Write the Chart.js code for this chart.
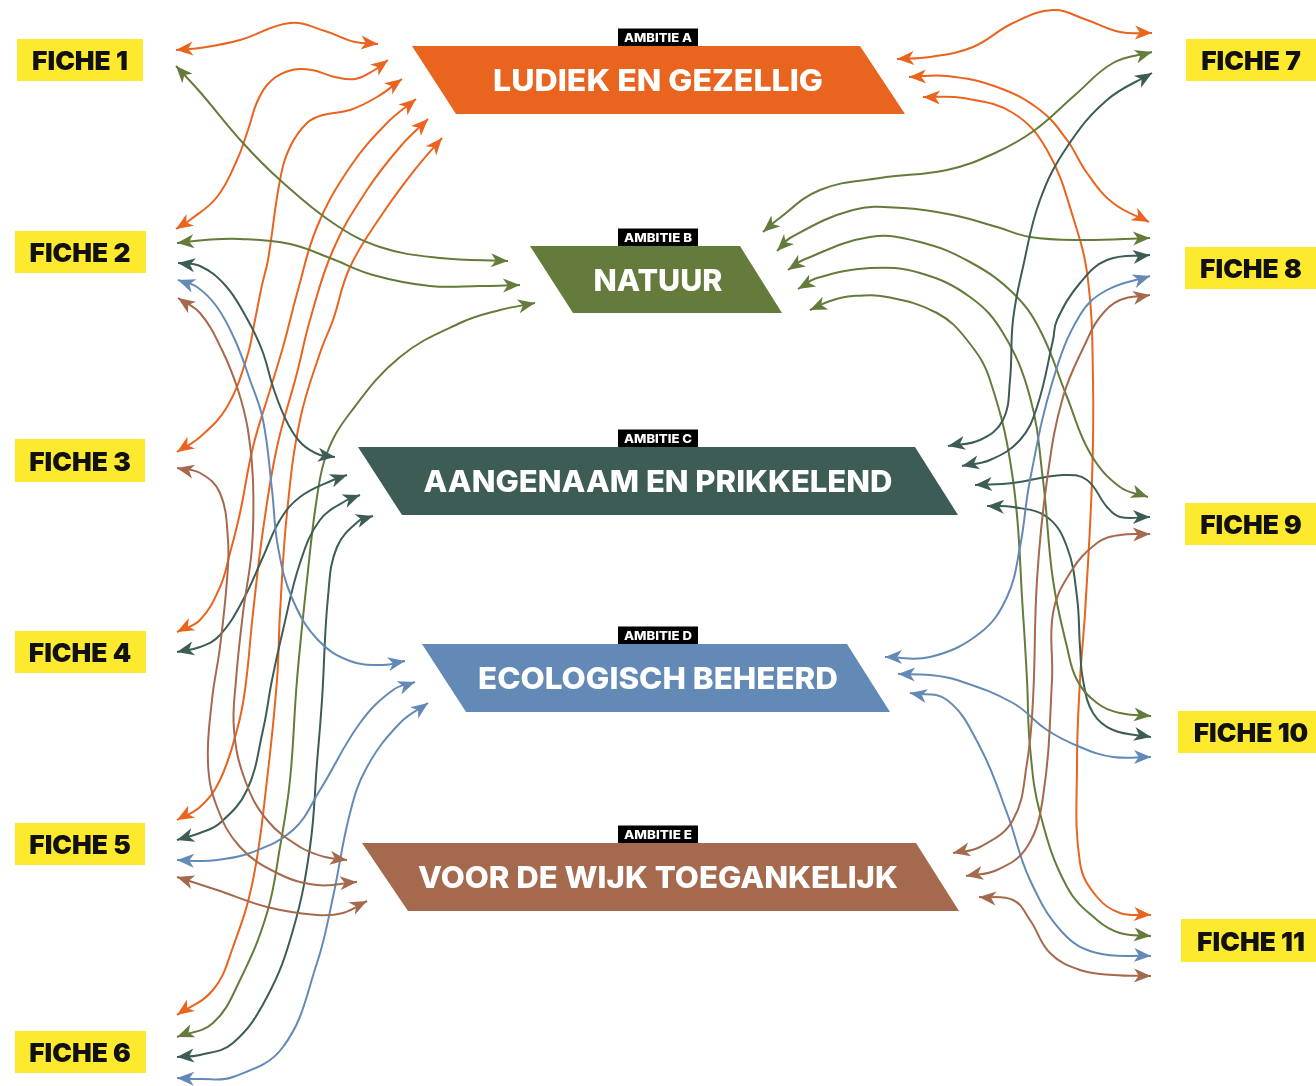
<!DOCTYPE html>
<html><head><meta charset="utf-8">
<script src="https://cdn.jsdelivr.net/npm/chart.js@4.4.1/dist/chart.umd.min.js"></script>
<style>html,body{margin:0;padding:0;background:#fff;}canvas{display:block;}</style>
</head><body>
<canvas id="c" width="1316" height="1086"></canvas>
<script>
// ---------- DATA ----------
const ficheLabels = ['FICHE 1','FICHE 2','FICHE 3','FICHE 4','FICHE 5','FICHE 6','FICHE 7','FICHE 8','FICHE 9','FICHE 10','FICHE 11'];
const ambitieKeys = ['A','B','C','D','E'];
const ambitieTags = ['AMBITIE A','AMBITIE B','AMBITIE C','AMBITIE D','AMBITIE E'];
const ambitieTitles = ['LUDIEK EN GEZELLIG','NATUUR','AANGENAAM EN PRIKKELEND','ECOLOGISCH BEHEERD','VOOR DE WIJK TOEGANKELIJK'];
// which fiche is linked to which ambitie
const linkFiche   = [1,1, 2,2,2,2,2, 3,3, 4,4, 5,5,5,5, 6,6,6,6, 7,7,7, 8,8,8,8,8, 9,9,9, 10,10,10, 11,11,11,11];
const linkAmbitie = ['A','B', 'A','B','C','D','E', 'A','E', 'A','C', 'A','C','D','E', 'A','B','C','D', 'A','B','C', 'A','B','C','D','E', 'B','C','E', 'B','C','D', 'A','B','D','E'];

// ---------- LAYOUT (diagram geometry, in axis units) ----------
const ambitieColors = {A:'#E9641F', B:'#647B3B', C:'#3D5C55', D:'#638AB6', E:'#A5694E'};
const ficheColor = '#FDEA2E';
const ficheBoxes = [
  [17,39,126,42],[15,231,131,42],[15,439,130,43],[15,631,131,42],[15,823,130,42],[15,1031,131,42],
  [1186,39,130,42],[1185,247,131,42],[1185,503,131,42],[1178,711,138,42],[1181,919,135,43]
];
// parallelogram banners: top y, bottom y, top-left x, top-right x, bottom-right x, bottom-left x
const ambitieShapes = [
  [46,114,412,860,905,456],
  [246,313,530,740,782,573],
  [447,515,358,915,958,402],
  [644,712,422,847,890,466],
  [843,911,362,916,959,408]
];
// routes of the connecting arrows (fiche end -> ambitie end)
const linkRoutes = [
  [[176,50],[200,48],[240,40],[290,23],[325,31],[355,42],[378,44]],
  [[176,66],[200,92],[243,143],[280,180],[333,223],[380,247],[440,258],[508,261]],
  [[176,229],[190,220],[217,197],[237,160],[248,130],[258,100],[272,80],[292,70],[312,70],[335,77],[355,79],[373,71],[388,60]],
  [[177,243],[205,240],[240,239],[290,244],[330,258],[373,275],[430,286],[480,286],[520,285]],
  [[178,263],[200,266],[225,285],[245,315],[262,350],[274,390],[288,424],[302,444],[320,455],[335,457]],
  [[178,280],[197,287],[217,307],[235,340],[250,380],[263,420],[272,490],[278,547],[292,598],[318,640],[350,661],[383,665],[405,661]],
  [[178,298],[200,313],[222,350],[238,390],[248,430],[253,480],[252,547],[243,613],[236,680],[234,730],[245,780],[267,820],[300,847],[325,857],[347,860]],
  [[177,452],[200,437],[227,407],[247,357],[255,320],[262,285],[268,260],[280,180],[290,147],[307,123],[323,115],[350,110],[377,97],[402,79]],
  [[177,468],[200,473],[220,493],[228,540],[227,580],[220,647],[212,700],[208,763],[217,807],[240,847],[277,873],[317,885],[357,882]],
  [[177,632],[200,620],[220,587],[230,553],[240,513],[253,447],[270,390],[283,347],[298,290],[317,227],[350,167],[387,123],[416,99]],
  [[177,652],[200,647],[220,635],[243,600],[263,557],[280,520],[300,497],[333,480],[347,475]],
  [[177,820],[200,807],[220,780],[237,730],[245,690],[253,613],[263,530],[277,447],[297,373],[310,320],[333,250],[367,190],[400,147],[428,119]],
  [[177,840],[200,833],[220,823],[247,790],[263,730],[272,680],[283,630],[300,563],[320,520],[347,500],[360,495]],
  [[177,860],[200,861],[217,860],[250,853],[293,830],[320,790],[360,723],[393,690],[415,682]],
  [[177,877],[217,890],[267,907],[317,915],[343,913],[367,901]],
  [[177,1015],[213,990],[233,947],[253,880],[267,780],[277,680],[280,613],[287,513],[300,420],[320,353],[333,320],[350,267],[383,213],[417,167],[442,138]],
  [[177,1037],[213,1023],[240,980],[267,913],[280,847],[290,780],[297,680],[307,580],[317,497],[327,453],[350,413],[400,357],[460,323],[500,310],[535,303]],
  [[177,1057],[200,1055],[233,1043],[267,997],[293,930],[310,847],[317,763],[322,700],[328,597],[337,547],[360,520],[373,516]],
  [[177,1078],[200,1079],[233,1077],[283,1047],[317,963],[333,897],[350,813],[367,767],[400,723],[428,703]],
  [[1152,33],[1120,32],[1087,20],[1053,10],[1013,23],[973,47],[930,57],[897,59]],
  [[1152,52],[1113,63],[1075,95],[1035,130],[995,153],[947,170],[880,178],[820,190],[777,220],[763,232]],
  [[1152,73],[1107,100],[1067,147],[1040,200],[1023,267],[1013,320],[1010,380],[1003,420],[980,440],[948,446]],
  [[1149,222],[1113,203],[1087,173],[1067,140],[1040,110],[997,87],[947,76],[909,77]],
  [[1150,238],[1080,240],[1030,237],[997,227],[953,215],[903,208],[853,210],[790,238],[777,251]],
  [[1150,255],[1107,260],[1080,283],[1057,320],[1053,340],[1037,407],[1020,440],[990,460],[962,466]],
  [[1150,276],[1107,290],[1080,315],[1053,380],[1030,480],[1020,547],[1007,597],[980,633],[930,657],[885,657]],
  [[1150,295],[1120,300],[1100,317],[1087,340],[1063,397],[1047,480],[1037,580],[1033,700],[1027,763],[1013,820],[980,847],[953,853]],
  [[1148,497],[1120,487],[1090,453],[1067,397],[1040,330],[1013,293],[970,262],[920,242],[870,237],[803,260],[788,270]],
  [[1150,517],[1120,517],[1107,507],[1087,480],[1063,475],[1013,483],[975,485]],
  [[1150,534],[1120,535],[1097,543],[1070,573],[1053,613],[1052,680],[1043,797],[1027,847],[997,870],[966,876]],
  [[1151,716],[1120,713],[1097,703],[1077,680],[1067,647],[1053,580],[1043,480],[1030,397],[1003,333],[970,297],[920,273],[870,268],[817,278],[798,289]],
  [[1151,737],[1113,730],[1093,713],[1083,680],[1080,647],[1077,597],[1067,547],[1047,517],[1013,507],[987,506]],
  [[1151,757],[1113,757],[1080,747],[1047,730],[1013,703],[957,680],[930,675],[898,674]],
  [[1151,915],[1120,913],[1097,897],[1080,863],[1077,763],[1080,680],[1085,613],[1092,480],[1093,380],[1088,280],[1073,217],[1047,150],[1013,113],[963,98],[923,97]],
  [[1151,936],[1120,933],[1097,920],[1067,887],[1040,813],[1030,747],[1027,680],[1023,613],[1013,480],[990,380],[967,340],[937,313],[887,297],[853,296],[830,301],[810,310]],
  [[1151,956],[1097,953],[1063,933],[1030,880],[1007,813],[980,747],[947,700],[910,693]],
  [[1151,976],[1113,975],[1080,970],[1050,953],[1030,920],[1013,900],[979,897]]
];

const FONT = 'Inter, Lato, "Open Sans", sans-serif';
const CAP = 0.727;

function fitText(ctx, text, cx, cy, capH, targetW, weight, color) {
  const size = capH / CAP;
  ctx.font = weight + ' ' + size + 'px ' + FONT;
  const w = ctx.measureText(text).width;
  ctx.save();
  ctx.fillStyle = color;
  ctx.textAlign = 'center';
  ctx.textBaseline = 'alphabetic';
  ctx.translate(cx, cy + capH / 2);
  if (targetW) ctx.scale(targetW / w, 1);
  ctx.fillText(text, 0, 0);
  ctx.restore();
}

const diagramPlugin = {
  id: 'diagram',
  beforeDatasetsDraw(chart) {
    const ctx = chart.ctx, X = v => chart.scales.x.getPixelForValue(v), Y = v => chart.scales.y.getPixelForValue(v);
    ctx.fillStyle = ficheColor;
    ficheBoxes.forEach(b => {
      ctx.fillRect(X(b[0]), Y(b[1]), X(b[0] + b[2]) - X(b[0]), Y(b[1] + b[3]) - Y(b[1]));
    });
    ambitieShapes.forEach((s, i) => {
      ctx.fillStyle = ambitieColors[ambitieKeys[i]];
      ctx.beginPath();
      ctx.moveTo(X(s[2]), Y(s[0]));
      ctx.lineTo(X(s[3]), Y(s[0]));
      ctx.lineTo(X(s[4]), Y(s[1]));
      ctx.lineTo(X(s[5]), Y(s[1]));
      ctx.closePath();
      ctx.fill();
      ctx.fillStyle = '#000';
      ctx.fillRect(X(618), Y(s[0] - 17.5), X(698) - X(618), Y(s[0]) - Y(s[0] - 17.5));
    });
  },
  afterDatasetsDraw(chart) {
    const ctx = chart.ctx;
    chart.data.datasets.forEach((ds, i) => {
      const pts = chart.getDatasetMeta(i).data;
      const n = pts.length;
      const heads = [[pts[0], pts[1]], [pts[n - 1], pts[n - 2]]];
      ctx.fillStyle = ds.borderColor;
      heads.forEach(([tip, prev]) => {
        const dx = tip.x - prev.x, dy = tip.y - prev.y;
        const L = Math.hypot(dx, dy) || 1;
        const ux = dx / L, uy = dy / L;
        const len = 17, hw = 7;
        const bx = tip.x - ux * len, by = tip.y - uy * len;
        ctx.beginPath();
        ctx.moveTo(tip.x, tip.y);
        ctx.lineTo(bx - uy * hw, by + ux * hw);
        ctx.lineTo(tip.x - ux * len * 0.72, tip.y - uy * len * 0.72);
        ctx.lineTo(bx + uy * hw, by - ux * hw);
        ctx.closePath();
        ctx.fill();
      });
    });
  },
  afterDraw(chart) {
    const ctx = chart.ctx, X = v => chart.scales.x.getPixelForValue(v), Y = v => chart.scales.y.getPixelForValue(v);
    const capF = 18.5;
    const fs = capF / CAP;
    ctx.font = '900 ' + fs + 'px ' + FONT;
    const sx = 101 / ctx.measureText('FICHE 2').width;
    ficheBoxes.forEach((b, i) => {
      ctx.font = '900 ' + fs + 'px ' + FONT;
      const w = ctx.measureText(ficheLabels[i]).width;
      const cx = i < 6 ? 80 : 1251;
      fitText(ctx, ficheLabels[i], X(cx), Y(b[1] + b[3] / 2 + 1), capF, w * sx, '900', '#111');
    });
    const titleW = [330, 129, 469, 360, 480];
    ambitieShapes.forEach((s, i) => {
      fitText(ctx, ambitieTitles[i], X(658), Y((s[0] + s[1]) / 2), 22, titleW[i], '800', '#fff');
      fitText(ctx, ambitieTags[i], X(658), Y(s[0] - 8.5), 9, 68, '800', '#fff');
    });
  }
};

const datasets = linkRoutes.map((r, i) => ({
  label: ficheLabels[linkFiche[i] - 1] + ' - ' + linkAmbitie[i],
  data: r.map(p => ({x: p[0], y: p[1]})),
  showLine: true,
  borderColor: ambitieColors[linkAmbitie[i]],
  borderWidth: 2,
  pointRadius: 0,
  pointHoverRadius: 0,
  tension: 0.4,
  fill: false,
  clip: false
}));

new Chart(document.getElementById('c'), {
  type: 'scatter',
  data: { datasets },
  options: {
    responsive: false,
    animation: false,
    events: [],
    layout: { padding: 0 },
    plugins: { legend: { display: false }, tooltip: { enabled: false } },
    scales: {
      x: { type: 'linear', min: 0, max: 1316, display: false },
      y: { type: 'linear', min: 0, max: 1086, reverse: true, display: false }
    }
  },
  plugins: [diagramPlugin]
});
</script>
</body></html>
